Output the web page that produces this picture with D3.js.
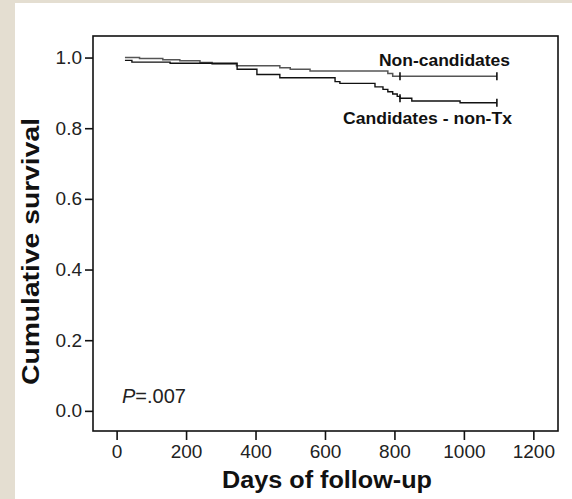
<!DOCTYPE html>
<html>
<head>
<meta charset="utf-8">
<script src="https://cdn.jsdelivr.net/npm/d3@7"></script>
<style>
  html, body { margin: 0; padding: 0; background: #e4ded1; }
  svg { display: block; }
</style>
</head>
<body>
<div id="chart"></div>
<script>
'use strict';

// Kaplan-Meier steps: day of each step, survival after it
const nonCandDays = [24, 66, 133, 182, 240, 275, 345, 470, 500, 557, 781, 795];
const nonCandSurv = [1.0, 0.997, 0.994, 0.991, 0.986, 0.982, 0.977, 0.971, 0.967, 0.962, 0.955, 0.947];
const candDays = [24, 44, 154, 347, 404, 470, 629, 643, 744, 767, 781, 795, 808, 816, 850, 989];
const candSurv = [0.992, 0.987, 0.984, 0.967, 0.952, 0.943, 0.932, 0.927, 0.917, 0.91, 0.903, 0.897, 0.89, 0.885, 0.877, 0.872];
const lastDay = 1095;
const censorDays = [816, 1095];

const xTicks = [0, 200, 400, 600, 800, 1000, 1200];
const yTicks = [0.0, 0.2, 0.4, 0.6, 0.8, 1.0];

const width = 572, height = 499;
const font = "'Liberation Sans', Arial, Helvetica, sans-serif";

const svg = d3.select("#chart").append("svg")
    .attr("width", width)
    .attr("height", height);

// white card over the beige page
svg.append("rect")
    .attr("x", 15).attr("y", 3)
    .attr("width", width - 15).attr("height", height - 3)
    .attr("fill", "#ffffff");

const x = d3.scaleLinear().domain([-68, 1271]).range([93, 558]);
const y = d3.scaleLinear().domain([-0.057, 1.061]).range([431, 36]);

// axes
let xAxis = svg.append("g")
    .attr("transform", "translate(0,431)")
    .call(d3.axisBottom(x).tickValues(xTicks).tickSize(9).tickPadding(5).tickFormat(d3.format("d")));
let yAxis = svg.append("g")
    .attr("transform", "translate(93,0)")
    .call(d3.axisLeft(y).tickValues(yTicks).tickSize(8).tickPadding(3).tickFormat(d3.format(".1f")));
[xAxis, yAxis].forEach(g => {
    g.select(".domain").remove();
    g.selectAll(".tick line").attr("stroke", "#111").attr("stroke-width", 1.6);
    g.selectAll(".tick text")
        .attr("fill", "#222")
        .style("font-family", font)
        .style("font-size", "19px");
});

// frame
svg.append("rect")
    .attr("x", x.range()[0]).attr("y", y.range()[1])
    .attr("width", x.range()[1] - x.range()[0])
    .attr("height", y.range()[0] - y.range()[1])
    .attr("fill", "none")
    .attr("stroke", "#111")
    .attr("stroke-width", 1.6);

function makeSeries(days, surv) {
    let pts = days.map((d, i) => [d, surv[i]]);
    pts.push([lastDay, surv[surv.length - 1]]);
    return pts;
}

function survAt(days, surv, day) {
    let s = surv[0];
    days.forEach((d, i) => { if (d <= day) s = surv[i]; });
    return s;
}

const line = d3.line()
    .x(d => x(d[0]))
    .y(d => y(d[1]))
    .curve(d3.curveStepAfter);

const series = [
    {name: "non", days: nonCandDays, surv: nonCandSurv, color: "#555", w: 1.5},
    {name: "cand", days: candDays, surv: candSurv, color: "#111", w: 1.4}
];

series.forEach(s => {
    svg.append("path")
        .datum(makeSeries(s.days, s.surv))
        .attr("fill", "none")
        .attr("stroke", s.color)
        .attr("stroke-width", s.w)
        .attr("d", line);
    svg.selectAll(null)
        .data(censorDays)
        .enter()
        .append("line")
        .attr("x1", d => x(d)).attr("x2", d => x(d))
        .attr("y1", d => y(survAt(s.days, s.surv, d)) - 4)
        .attr("y2", d => y(survAt(s.days, s.surv, d)) + 4)
        .attr("stroke", "#111")
        .attr("stroke-width", 1.6);
});

// series labels
svg.append("text")
    .attr("x", 379).attr("y", 66)
    .attr("textLength", 131).attr("lengthAdjust", "spacingAndGlyphs")
    .style("font-family", font).style("font-size", "16px").style("font-weight", "bold")
    .attr("fill", "#111")
    .text("Non-candidates");
svg.append("text")
    .attr("x", 343).attr("y", 124)
    .attr("textLength", 169).attr("lengthAdjust", "spacingAndGlyphs")
    .style("font-family", font).style("font-size", "16px").style("font-weight", "bold")
    .attr("fill", "#111")
    .text("Candidates - non-Tx");

// P value
let pText = svg.append("text")
    .attr("x", 122).attr("y", 403)
    .style("font-family", font).style("font-size", "20px")
    .attr("fill", "#222");
pText.append("tspan").style("font-style", "italic").text("P");
pText.append("tspan").text("=.007");

// axis titles
svg.append("text")
    .attr("x", 222).attr("y", 488)
    .attr("textLength", 210).attr("lengthAdjust", "spacingAndGlyphs")
    .style("font-family", font).style("font-size", "23px").style("font-weight", "bold")
    .attr("fill", "#111")
    .text("Days of follow-up");
svg.append("text")
    .attr("transform", "translate(38.5,385) rotate(-90)")
    .attr("textLength", 267).attr("lengthAdjust", "spacingAndGlyphs")
    .style("font-family", font).style("font-size", "23px").style("font-weight", "bold")
    .attr("fill", "#111")
    .text("Cumulative survival");
</script>
</body>
</html>
